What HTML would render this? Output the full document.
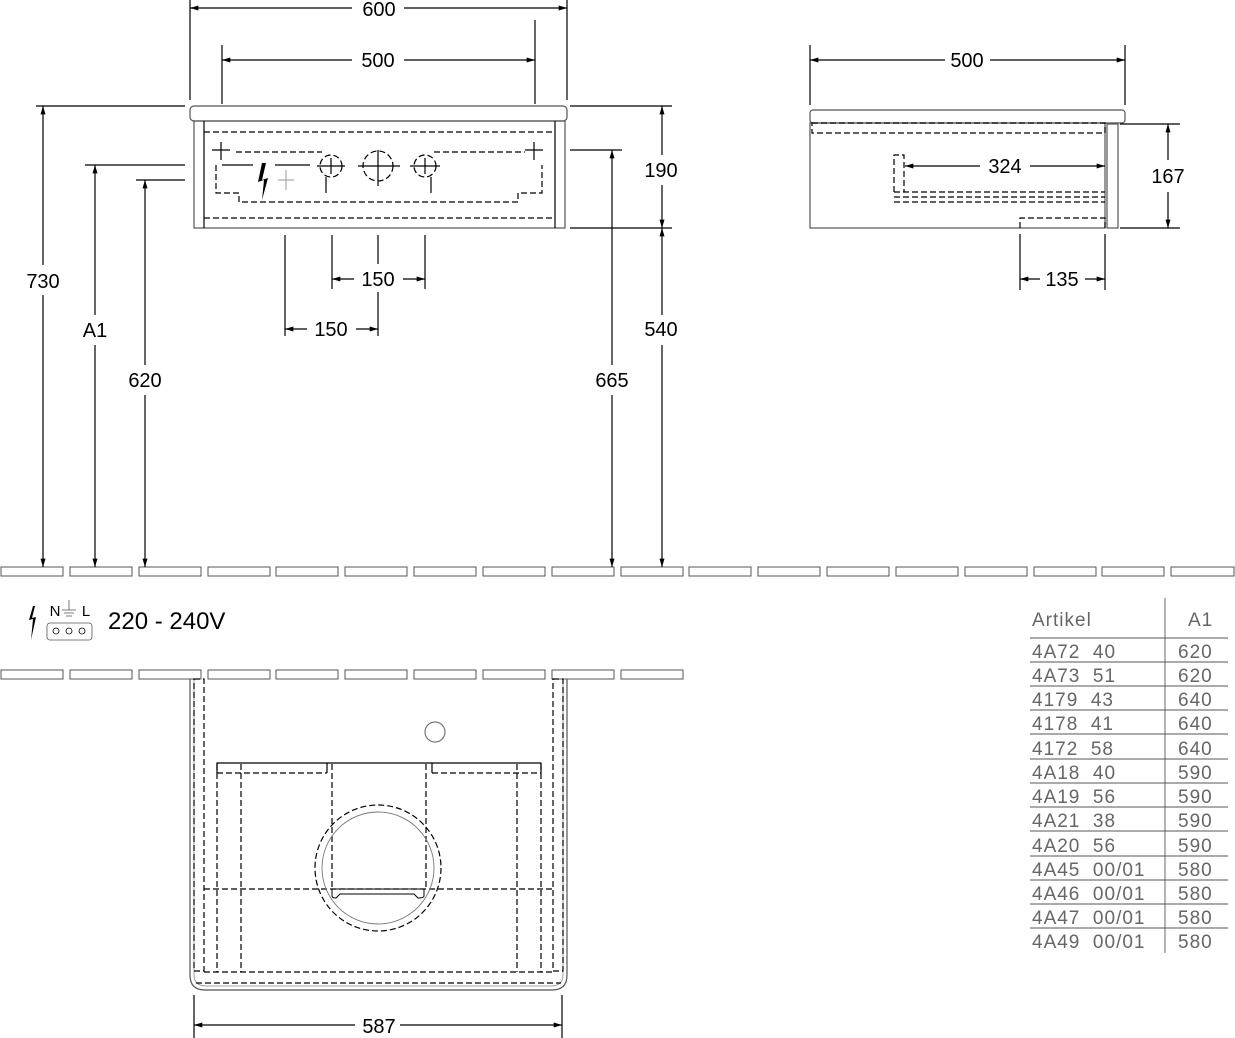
<!DOCTYPE html>
<html><head><meta charset="utf-8"><style>
html,body{margin:0;padding:0;background:#fff}
svg{display:block}
text{font-family:"Liberation Sans",sans-serif;white-space:pre}
</style></head><body>
<svg width="1235" height="1038" viewBox="0 0 1235 1038" xmlns="http://www.w3.org/2000/svg">
<defs>
<marker id="a" viewBox="0 0 10 6" refX="10" refY="3" markerWidth="12" markerHeight="5" orient="auto-start-reverse" markerUnits="userSpaceOnUse"><path d="M0,0L10,3L0,6z" fill="#000"/></marker>
</defs>
<g stroke="#000" stroke-width="1.2" fill="none">
<g stroke="#555" stroke-width="1">
<rect x="1" y="567" width="62" height="9"/><rect x="70" y="567" width="62" height="9"/><rect x="139" y="567" width="62" height="9"/><rect x="208" y="567" width="62" height="9"/><rect x="276" y="567" width="62" height="9"/><rect x="345" y="567" width="62" height="9"/><rect x="414" y="567" width="62" height="9"/><rect x="483" y="567" width="62" height="9"/><rect x="552" y="567" width="62" height="9"/><rect x="621" y="567" width="62" height="9"/><rect x="689" y="567" width="62" height="9"/><rect x="758" y="567" width="62" height="9"/><rect x="827" y="567" width="62" height="9"/><rect x="896" y="567" width="62" height="9"/><rect x="965" y="567" width="62" height="9"/><rect x="1034" y="567" width="62" height="9"/><rect x="1102" y="567" width="62" height="9"/><rect x="1171" y="567" width="63" height="9"/>
<rect x="1" y="670" width="62" height="9"/><rect x="70" y="670" width="62" height="9"/><rect x="139" y="670" width="62" height="9"/><rect x="208" y="670" width="62" height="9"/><rect x="276" y="670" width="62" height="9"/><rect x="345" y="670" width="62" height="9"/><rect x="414" y="670" width="62" height="9"/><rect x="483" y="670" width="62" height="9"/><rect x="552" y="670" width="62" height="9"/><rect x="621" y="670" width="62" height="9"/>
</g>
<rect x="190" y="106" width="377" height="15" rx="4" stroke="#555"/>
<rect x="194" y="121" width="371" height="107" stroke="#555"/>
<line x1="204" y1="121" x2="204" y2="228"/><line x1="555" y1="121" x2="555" y2="228"/>
<g stroke-dasharray="6,3">
<line x1="204" y1="132" x2="555" y2="132"/>
<line x1="204" y1="218" x2="555" y2="218"/>
<line x1="236" y1="152" x2="322" y2="152"/><line x1="434" y1="152" x2="525" y2="152"/>
<path d="M216,165 V193 H239 V202 H518 V193 H542 V165"/>
<circle cx="331" cy="166" r="11"/><circle cx="378" cy="166" r="15"/><circle cx="425" cy="166" r="11"/>
</g>
<path d="M221,142V160M212,150H230M534,142V160M525,150H543" />
<path d="M222,165H253M275,165H310M317,166H345M358,166H400M410,166H440M331,158V174M323,166H339M378,150V186M370,166H386M425,158V174M417,166H433M326,177V193M431,177V193"/>
<path d="M286,170V190M278,180H294" stroke="#aaa"/>
<path d="M262,163L258,182L264,180L262,200L268,178L262,180L266,163Z" fill="#000" stroke="none"/>
<line x1="190" y1="0" x2="190" y2="100"/><line x1="567" y1="0" x2="567" y2="100"/>
<line x1="190" y1="8" x2="352" y2="8" marker-start="url(#a)"/><line x1="404" y1="8" x2="567" y2="8" marker-end="url(#a)"/>
<line x1="222" y1="45" x2="222" y2="104"/><line x1="535" y1="20" x2="535" y2="104"/>
<line x1="222" y1="60" x2="352" y2="60" marker-start="url(#a)"/><line x1="404" y1="60" x2="535" y2="60" marker-end="url(#a)"/>
<line x1="36" y1="106" x2="185" y2="106"/><line x1="85" y1="165" x2="185" y2="165"/><line x1="136" y1="180" x2="185" y2="180"/>
<line x1="43" y1="106" x2="43" y2="265" marker-start="url(#a)"/><line x1="43" y1="295" x2="43" y2="567" marker-end="url(#a)"/>
<line x1="95" y1="165" x2="95" y2="315" marker-start="url(#a)"/><line x1="95" y1="345" x2="95" y2="567" marker-end="url(#a)"/>
<line x1="145" y1="180" x2="145" y2="365" marker-start="url(#a)"/><line x1="145" y1="395" x2="145" y2="567" marker-end="url(#a)"/>
<line x1="570" y1="106" x2="672" y2="106"/><line x1="570" y1="228" x2="672" y2="228"/><line x1="570" y1="150" x2="622" y2="150"/>
<line x1="662" y1="106" x2="662" y2="155" marker-start="url(#a)"/><line x1="662" y1="185" x2="662" y2="228" marker-end="url(#a)"/>
<line x1="662" y1="228" x2="662" y2="315" marker-start="url(#a)"/><line x1="662" y1="345" x2="662" y2="567" marker-end="url(#a)"/>
<line x1="612" y1="150" x2="612" y2="218" marker-start="url(#a)"/><line x1="612" y1="395" x2="612" y2="567" marker-end="url(#a)"/><line x1="612" y1="218" x2="612" y2="365"/>
<line x1="285" y1="235" x2="285" y2="336"/><line x1="332" y1="235" x2="332" y2="289"/><line x1="378" y1="235" x2="378" y2="264"/><line x1="378" y1="292" x2="378" y2="336"/><line x1="425" y1="235" x2="425" y2="289"/>
<line x1="332" y1="279" x2="354" y2="279" marker-start="url(#a)"/><line x1="403" y1="279" x2="425" y2="279" marker-end="url(#a)"/>
<line x1="285" y1="329" x2="307" y2="329" marker-start="url(#a)"/><line x1="356" y1="329" x2="378" y2="329" marker-end="url(#a)"/>
<rect x="810" y="110" width="315" height="13" rx="3" stroke="#555"/>
<rect x="810" y="123" width="295" height="105" stroke="#555"/>
<rect x="1107" y="124" width="11" height="104" stroke="#555"/>
<g stroke-dasharray="6,3">
<rect x="812" y="123" width="293" height="10"/>
<path d="M894,192V155H904V192M894,192H1105M894,197H1105M894,202H1105"/>
<path d="M1020,228V218H1105V228"/>
</g>
<line x1="810" y1="45" x2="810" y2="105"/><line x1="1125" y1="45" x2="1125" y2="105"/>
<line x1="810" y1="60" x2="945" y2="60" marker-start="url(#a)"/><line x1="990" y1="60" x2="1125" y2="60" marker-end="url(#a)"/>
<line x1="1120" y1="124" x2="1180" y2="124"/><line x1="1120" y1="228" x2="1180" y2="228"/>
<line x1="1168" y1="124" x2="1168" y2="160" marker-start="url(#a)"/><line x1="1168" y1="192" x2="1168" y2="228" marker-end="url(#a)"/>
<line x1="905" y1="166" x2="980" y2="166" marker-start="url(#a)"/><line x1="1030" y1="166" x2="1105" y2="166" marker-end="url(#a)"/>
<line x1="1020" y1="234" x2="1020" y2="290"/><line x1="1105" y1="234" x2="1105" y2="290"/>
<line x1="1020" y1="279" x2="1040" y2="279" marker-start="url(#a)"/><line x1="1085" y1="279" x2="1105" y2="279" marker-end="url(#a)"/>
<path d="M190,679V975Q190,990 205,990H552Q567,990 567,975V679" stroke="#555"/>
<path d="M194,679V975Q194,986 206,986H551Q563,986 563,975V679" stroke="#888" stroke-width="0.8"/>
<g stroke-dasharray="6,3">
<rect x="194" y="679" width="10" height="292"/><rect x="553" y="679" width="10" height="292"/>
<path d="M217,764V972M241,764V972M332,764V889M426,764V889M517,764V972M541,764V972"/>
<path d="M217,773H327M432,773H541M204,889H553M204,972H553M196,983H561"/>
<circle cx="378" cy="868" r="63"/>
</g>
<path d="M217,773V763H541V773M327,763V773M432,763V773"/>
<circle cx="378" cy="868" r="56" stroke="#777" stroke-width="0.9"/>
<path d="M332,889V896Q332,898 336,898L340,894H414L418,898Q424,898 424,896V889M332,889H424" stroke-width="1"/>
<circle cx="435" cy="732" r="10" stroke="#777"/>
<line x1="194" y1="995" x2="194" y2="1038"/><line x1="562" y1="995" x2="562" y2="1038"/>
<line x1="194" y1="1025" x2="355" y2="1025" marker-start="url(#a)"/><line x1="400" y1="1025" x2="562" y2="1025" marker-end="url(#a)"/>
<path d="M33,606L29,620L33,619L31,640L36,617L32,618L35,606Z" fill="#000" stroke="none"/>
<rect x="47" y="623" width="45" height="17" rx="3" stroke="#555" stroke-width="0.8"/>
<circle cx="56" cy="631" r="3" stroke-width="0.8"/><circle cx="69" cy="631" r="3" stroke-width="0.8"/><circle cx="82" cy="631" r="3" stroke-width="0.8"/>
<path d="M69,600V610M62,610H76M64,613H74M66,616H72" stroke-width="0.8" stroke="#555"/>
<g stroke="#555" stroke-width="0.9">
<line x1="1165" y1="598" x2="1165" y2="953"/>
<line x1="1030" y1="638" x2="1228" y2="638"/><line x1="1030" y1="662" x2="1228" y2="662"/><line x1="1030" y1="686" x2="1228" y2="686"/><line x1="1030" y1="710" x2="1228" y2="710"/><line x1="1030" y1="734" x2="1228" y2="734"/><line x1="1030" y1="759" x2="1228" y2="759"/><line x1="1030" y1="783" x2="1228" y2="783"/><line x1="1030" y1="807" x2="1228" y2="807"/><line x1="1030" y1="831" x2="1228" y2="831"/><line x1="1030" y1="856" x2="1228" y2="856"/><line x1="1030" y1="880" x2="1228" y2="880"/><line x1="1030" y1="904" x2="1228" y2="904"/><line x1="1030" y1="928" x2="1228" y2="928"/>
</g>
</g>
<g font-size="20" fill="#000" text-anchor="middle">
<text x="379" y="16">600</text><text x="378" y="67">500</text>
<text x="43" y="288">730</text><text x="95" y="337">A1</text><text x="145" y="387">620</text>
<text x="661" y="177">190</text><text x="661" y="336">540</text><text x="612" y="387">665</text>
<text x="378" y="286">150</text><text x="331" y="336">150</text>
<text x="967" y="67">500</text><text x="1168" y="183">167</text><text x="1005" y="173">324</text><text x="1062" y="286">135</text>
<text x="379" y="1033">587</text>
<text x="108" y="629" font-size="24" text-anchor="start">220 - 240V</text>
<text x="55" y="616" font-size="15">N</text><text x="86" y="616" font-size="15">L</text>
</g>
<g font-size="19" fill="#666" font-family="Liberation Sans" style="letter-spacing:1px">
<text x="1032" y="626">Artikel</text><text x="1188" y="626">A1</text>
<text x="1032" y="658">4A72  40</text><text x="1178" y="658">620</text>
<text x="1032" y="682">4A73  51</text><text x="1178" y="682">620</text>
<text x="1032" y="706">4179  43</text><text x="1178" y="706">640</text>
<text x="1032" y="730">4178  41</text><text x="1178" y="730">640</text>
<text x="1032" y="755">4172  58</text><text x="1178" y="755">640</text>
<text x="1032" y="779">4A18  40</text><text x="1178" y="779">590</text>
<text x="1032" y="803">4A19  56</text><text x="1178" y="803">590</text>
<text x="1032" y="827">4A21  38</text><text x="1178" y="827">590</text>
<text x="1032" y="852">4A20  56</text><text x="1178" y="852">590</text>
<text x="1032" y="876">4A45  00/01</text><text x="1178" y="876">580</text>
<text x="1032" y="900">4A46  00/01</text><text x="1178" y="900">580</text>
<text x="1032" y="924">4A47  00/01</text><text x="1178" y="924">580</text>
<text x="1032" y="948">4A49  00/01</text><text x="1178" y="948">580</text>
</g>
</svg>
</body></html>
